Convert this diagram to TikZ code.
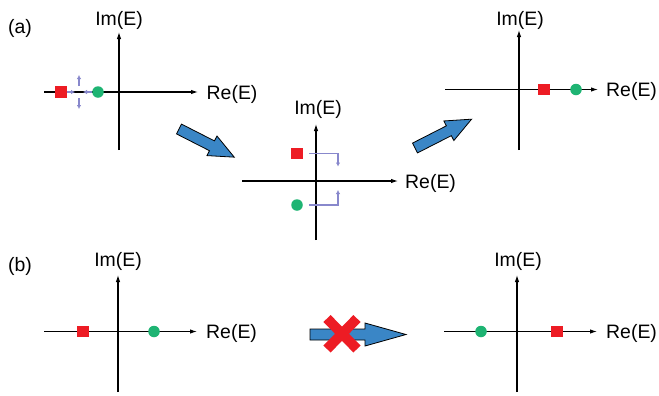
\documentclass[tikz,border=0pt]{standalone}
\usepackage{fontspec}
\setmainfont{Liberation Sans}
\usetikzlibrary{arrows.meta}

\definecolor{myred}{RGB}{237,28,36}
\definecolor{mygreen}{RGB}{30,180,115}
\definecolor{mypurple}{RGB}{136,136,204}
\definecolor{myblue}{RGB}{58,134,198}

\tikzset{
  axis/.style={line width=1.1bp, -{Latex[length=7bp,width=4.5bp]}},
  sqr/.style={fill=myred, minimum size=11.5bp, inner sep=0pt, outer sep=0pt},
  dot/.style={circle, fill=mygreen, minimum size=11.5bp, inner sep=0pt, outer sep=0pt},
  lbl/.style={font=\fontsize{19.5}{20}\selectfont, inner sep=0pt},
  flow/.style={draw=mypurple, line width=1.4bp, -{Latex[length=4bp,width=4.5bp]}},
  bigarrow/.style={fill=myblue, draw=black, line width=0.8bp, line join=miter},
  cross/.style={draw=myred, line width=10bp},
}

\begin{document}
\begin{tikzpicture}[x=1bp, y=-1bp]
\useasboundingbox (0,0) rectangle (659,395);

% panel labels
\node[lbl, anchor=base west] (la) at (8,33) {(a)};
\node[lbl, anchor=base west] (lb) at (8,271) {(b)};

% ---- (a) initial spectrum ----
\coordinate (a1b) at (119,150); \coordinate (a1t) at (119,32);
\coordinate (a1l) at (44,92);   \coordinate (a1r) at (198,92);
\draw[axis] (a1b) -- (a1t);
\draw[axis] (a1l) -- (a1r);
\node[lbl, anchor=base] (a1im) at (119,25) {Im(E)};
\node[lbl, anchor=base west] (a1re) at (206.5,99) {Re(E)};
\coordinate (p1a) at (67,92);  \coordinate (p1b) at (75,92);
\coordinate (p2a) at (92,92);  \coordinate (p2b) at (83,92);
\coordinate (p3a) at (79,86);  \coordinate (p3b) at (79,75);
\coordinate (p4a) at (79,98);  \coordinate (p4b) at (79,109);
\draw[flow] (p1a) -- (p1b);
\draw[flow] (p2a) -- (p2b);
\draw[flow] (p3a) -- (p3b);
\draw[flow] (p4a) -- (p4b);
\node[sqr] (s1) at (61,92) {};
\node[dot] (c1) at (98,92) {};

% ---- (a) complex pair ----
\coordinate (a2b) at (316,240); \coordinate (a2t) at (316,124);
\coordinate (a2l) at (242,181); \coordinate (a2r) at (398,181);
\draw[axis] (a2b) -- (a2t);
\draw[axis] (a2l) -- (a2r);
\node[lbl, anchor=base] (a2im) at (318,114) {Im(E)};
\node[lbl, anchor=base west] (a2re) at (405,188) {Re(E)};
\node[sqr] (s2) at (297,153.5) {};
\node[dot] (c2) at (297,205) {};
\coordinate (q1a) at (309,153.5); \coordinate (q1b) at (338,166.5);
\coordinate (q2a) at (309,205);   \coordinate (q2b) at (338,190);
\draw[flow] (q1a) -| (q1b);
\draw[flow] (q2a) -| (q2b);

% ---- (a) exchanged spectrum ----
\coordinate (a3b) at (519,150); \coordinate (a3t) at (519,30);
\coordinate (a3l) at (445,89.5); \coordinate (a3r) at (598,89.5);
\draw[axis] (a3b) -- (a3t);
\draw[axis] (a3l) -- (a3r);
\node[lbl, anchor=base] (a3im) at (520,25) {Im(E)};
\node[lbl, anchor=base west] (a3re) at (606,96.5) {Re(E)};
\node[sqr] (s3) at (544,89.5) {};
\node[dot] (c3) at (576,89.5) {};

% block arrows between the (a) panels
\begin{scope}[shift={(179,129)}, rotate=-27]
  \draw[bigarrow] (0,-5.5) -- (37,-5.5) -- (37,-11) -- (62,0)
    -- (37,11) -- (37,5.5) -- (0,5.5) -- cycle;
\end{scope}
\begin{scope}[shift={(415,148)}, rotate=27]
  \draw[bigarrow] (0,-5.5) -- (38,-5.5) -- (38,-11) -- (63.5,0)
    -- (38,11) -- (38,5.5) -- (0,5.5) -- cycle;
\end{scope}

% ---- (b) initial spectrum ----
\coordinate (b1b) at (118,392); \coordinate (b1t) at (118,275);
\coordinate (b1l) at (44,331.5); \coordinate (b1r) at (197,331.5);
\draw[axis] (b1b) -- (b1t);
\draw[axis] (b1l) -- (b1r);
\node[lbl, anchor=base] (b1im) at (118,266.5) {Im(E)};
\node[lbl, anchor=base west] (b1re) at (206,338.5) {Re(E)};
\node[sqr] (s4) at (83,331.5) {};
\node[dot] (c4) at (154,331.5) {};

% ---- (b) forbidden result ----
\coordinate (b2b) at (517,392); \coordinate (b2t) at (517,275);
\coordinate (b2l) at (444,331.5); \coordinate (b2r) at (597,331.5);
\draw[axis] (b2b) -- (b2t);
\draw[axis] (b2l) -- (b2r);
\node[lbl, anchor=base] (b2im) at (518,266.5) {Im(E)};
\node[lbl, anchor=base west] (b2re) at (606,338.5) {Re(E)};
\node[dot] (c5) at (481,331.5) {};
\node[sqr] (s5) at (557,331.5) {};

% crossed-out block arrow
\draw[bigarrow] (310,329) -- (365,329) -- (365,323) -- (406,334.5)
  -- (365,346) -- (365,340) -- (310,340) -- cycle;
\coordinate (x1) at (327,318.5); \coordinate (x2) at (357,349);
\coordinate (x3) at (357,318.5); \coordinate (x4) at (327,349);
\draw[cross] (x1) -- (x2);
\draw[cross] (x3) -- (x4);
\end{tikzpicture}
\end{document}
